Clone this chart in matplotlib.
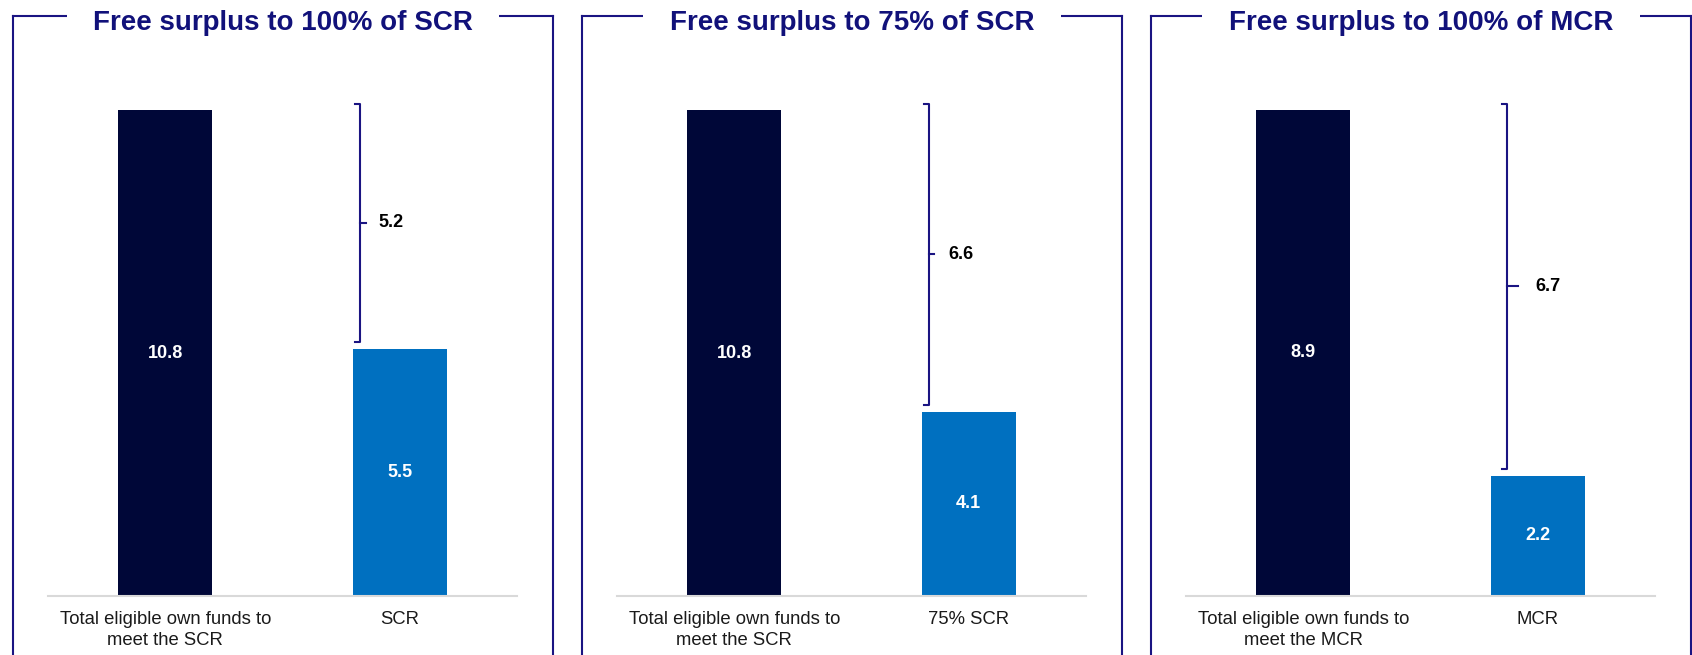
import matplotlib
matplotlib.use('Agg')
import matplotlib.pyplot as plt
from matplotlib.lines import Line2D

plt.rcParams['font.family'] = ['Liberation Sans', 'DejaVu Sans']

# ---- data ----
titles = ["Free surplus to 100% of SCR",
          "Free surplus to 75% of SCR",
          "Free surplus to 100% of MCR"]
own_funds_labels = ["Total eligible own funds to\nmeet the SCR",
                    "Total eligible own funds to\nmeet the SCR",
                    "Total eligible own funds to\nmeet the MCR"]
requirement_labels = ["SCR", "75% SCR", "MCR"]
own_funds = [10.8, 10.8, 8.9]
requirements = [5.5, 4.1, 2.2]
surplus = [5.2, 6.6, 6.7]

# ---- style / layout ----
W, H = 1692, 655
DARK = '#000738'
BLUE = '#0070C0'
FRAME = '#1a1482'
TITLE_C = '#11117a'
frame_lefts = [13, 582, 1151]
frame_w = 540
frame_top = 16
ax_pad = 35
ax_bottom_px = 596
ax_top_px = 61
bracket_x = [0.832, 0.832, 0.87]
tick_px = [6, 5, 11]
label_dx_px = [18, 19, 28]

fig = plt.figure(figsize=(W / 100, H / 100), dpi=100)


def fx(px):
    return px / W


def fy(py):
    return 1 - py / H


for i in range(3):
    L = frame_lefts[i]
    R = L + frame_w
    # frame: sides + top line (title box covers middle)
    fig.add_artist(Line2D([fx(L), fx(L)], [fy(H + 5), fy(frame_top)], color=FRAME, lw=1.5))
    fig.add_artist(Line2D([fx(R), fx(R)], [fy(H + 5), fy(frame_top)], color=FRAME, lw=1.5))
    fig.add_artist(Line2D([fx(L), fx(R)], [fy(frame_top), fy(frame_top)], color=FRAME, lw=1.5))
    fig.text(fx((L + R) / 2), fy(30), titles[i], ha='center', va='baseline',
             fontsize=20, fontweight='bold', color=TITLE_C, zorder=5,
             bbox=dict(facecolor='white', edgecolor='none', pad=19))

    ax_left = L + ax_pad
    ax_w = frame_w - 2 * ax_pad - 1
    ax_h = ax_bottom_px - ax_top_px
    ax = fig.add_axes([fx(ax_left), fy(ax_bottom_px), ax_w / W, ax_h / H])
    vmax = own_funds[i]
    ymax = vmax * ax_h / 486.0
    ax.set_xlim(-0.5, 1.5)
    ax.set_ylim(0, ymax)
    ppu = ax_h / ymax
    ppx = ax_w / 2.0

    ax.bar([0, 1], [own_funds[i], requirements[i]], width=0.4,
           color=[DARK, BLUE], zorder=2)
    ax.text(0, own_funds[i] / 2, f"{own_funds[i]:.1f}", ha='center', va='center',
            color='white', fontsize=13, fontweight='bold')
    ax.text(1, requirements[i] / 2, f"{requirements[i]:.1f}", ha='center', va='center',
            color='white', fontsize=13, fontweight='bold')

    # bracket
    bx = bracket_x[i]
    top = own_funds[i] + 6 / ppu
    bot = requirements[i] + 7 / ppu
    mid = (top + bot) / 2
    hook = 5 / ppx
    tick = tick_px[i] / ppx
    ax.plot([bx - hook, bx, bx, bx - hook], [top, top, bot, bot],
            color=FRAME, lw=1.5, clip_on=False, solid_joinstyle='round')
    ax.plot([bx, bx + tick], [mid, mid], color=FRAME, lw=1.5, clip_on=False)
    ax.text(bx + label_dx_px[i] / ppx, mid, f"{surplus[i]:.1f}", ha='left', va='center',
            color='black', fontsize=13, fontweight='bold')

    ax.set_xticks([0, 1])
    ax.set_xticklabels([own_funds_labels[i], requirement_labels[i]],
                       fontsize=13.3, color='#1a1a1a')
    for lbl in ax.get_xticklabels():
        lbl.set_linespacing(1.3)
    ax.tick_params(axis='x', length=0, pad=11)
    ax.set_yticks([])
    for s in ['top', 'left', 'right']:
        ax.spines[s].set_visible(False)
    ax.spines['bottom'].set_color('#d9d9d9')
    ax.spines['bottom'].set_linewidth(1.5)
    ax.set_facecolor('none')

fig.savefig('out.png', dpi=100, facecolor='white')
